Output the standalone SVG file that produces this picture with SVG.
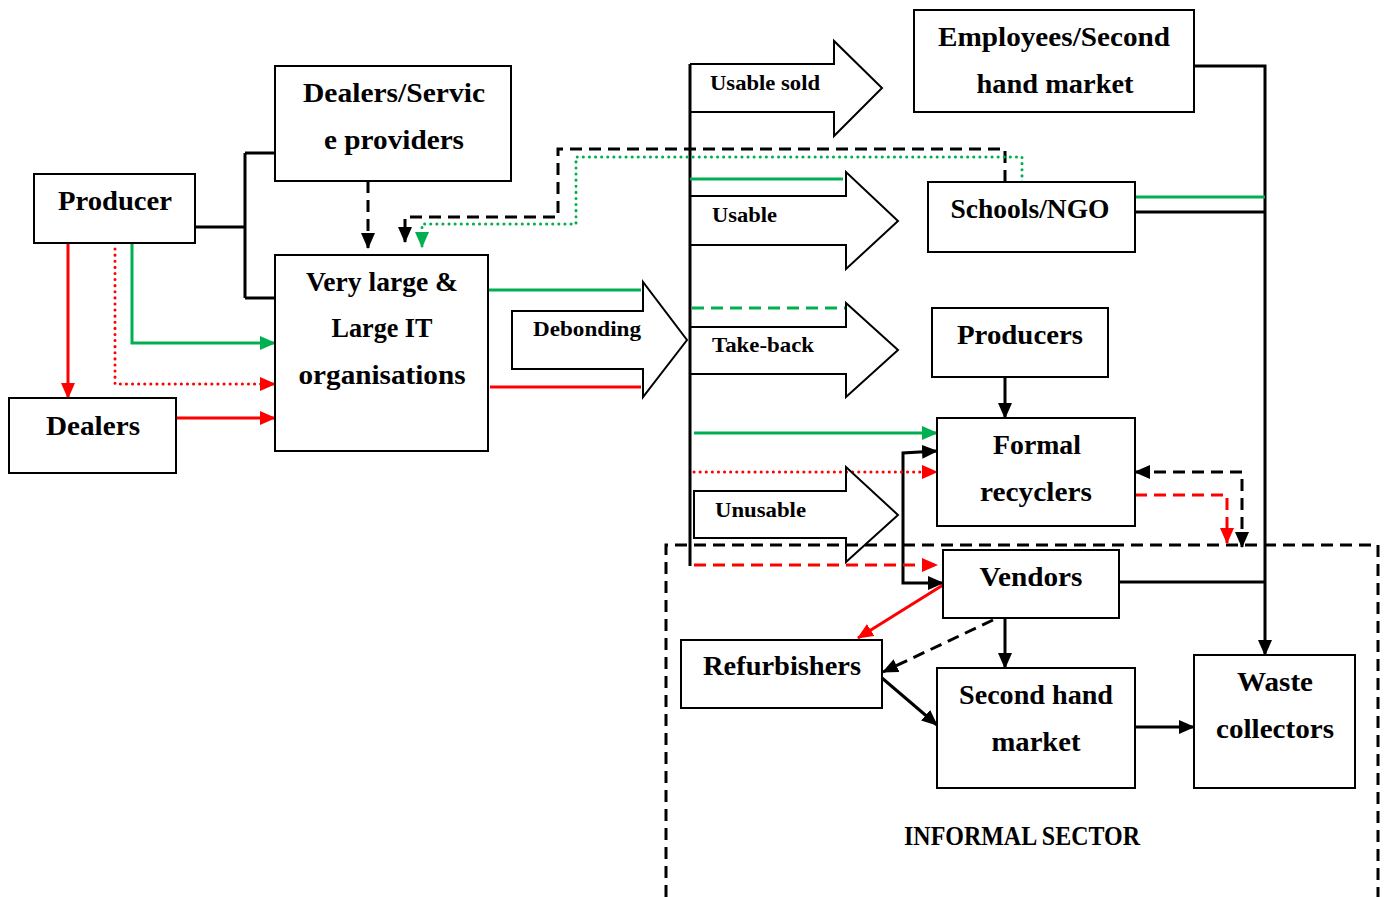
<svg xmlns="http://www.w3.org/2000/svg" width="1389" height="897" viewBox="0 0 1389 897">
  <style>
    .box { fill: #fff; stroke: #000; stroke-width: 2; }
    .lbl { font-family: "Liberation Serif", "DejaVu Serif", serif; font-weight: bold; font-size: 27px; fill: #000; text-anchor: middle; }
    .alb { font-family: "Liberation Serif", "DejaVu Serif", serif; font-weight: bold; font-size: 21px; fill: #000; }
    .blk { fill: none; stroke: #000; stroke-width: 3; }
    .red { fill: none; stroke: #ff0000; stroke-width: 3; }
    .grn { fill: none; stroke: #00b050; stroke-width: 3; }
    .dash { stroke-dasharray: 12 7; }
    .dot { stroke-dasharray: 0.1 6; stroke-linecap: round; }
    .barrow { fill: none; stroke: #000; stroke-width: 2; }
  </style>
  <defs>
    <marker id="ak" viewBox="0 0 16 14" refX="15" refY="7" markerWidth="16" markerHeight="14" markerUnits="userSpaceOnUse" orient="auto-start-reverse">
      <path d="M0,0 L16,7 L0,14 z" fill="#000"/>
    </marker>
    <marker id="ar" viewBox="0 0 16 14" refX="15" refY="7" markerWidth="16" markerHeight="14" markerUnits="userSpaceOnUse" orient="auto">
      <path d="M0,0 L16,7 L0,14 z" fill="#ff0000"/>
    </marker>
    <marker id="ag" viewBox="0 0 16 14" refX="15" refY="7" markerWidth="16" markerHeight="14" markerUnits="userSpaceOnUse" orient="auto">
      <path d="M0,0 L16,7 L0,14 z" fill="#00b050"/>
    </marker>
  </defs>

  <!-- informal sector boundary -->
  <g id="informal-sector">
    <path class="blk dash" d="M666,897 V545 H1378 V897" stroke-width="2.5"/>
    <text class="lbl" x="1022" y="845" font-size="24" textLength="236" lengthAdjust="spacingAndGlyphs">INFORMAL SECTOR</text>
  </g>

  <!-- connectors -->
  <g id="connectors">
    <!-- black solid -->
    <path class="blk" d="M195,227 H245 M245,153 V298 M245,153 H275 M245,298 H275"/>
    <path class="blk" d="M690,64 V566"/>
    <path class="blk" d="M1194,66 H1265 V655" marker-end="url(#ak)"/>
    <path class="blk" d="M1135,212 H1265"/>
    <path class="blk" d="M1119,582 H1265"/>
    <path class="blk" d="M1005,377 V418" marker-end="url(#ak)"/>
    <path class="blk" d="M903,520 V453 L937,451" marker-end="url(#ak)"/>
    <path class="blk" d="M903,520 V583 H943" marker-end="url(#ak)"/>
    <path class="blk" d="M1005,618 V668" marker-end="url(#ak)"/>
    <path class="blk" d="M882,678 L937,725" marker-end="url(#ak)"/>
    <path class="blk" d="M1135,727 H1194" marker-end="url(#ak)"/>
    <!-- black dashed -->
    <path class="blk dash" d="M368,181 V248" marker-end="url(#ak)"/>
    <path class="blk dash" d="M1005,182 V149 H558 V217 H405 V242" marker-end="url(#ak)"/>
    <path class="blk dash" d="M1135,472 H1242 V547" marker-start="url(#ak)" marker-end="url(#ak)"/>
    <path class="blk dash" d="M993,620 L883,672" stroke-width="2.5" marker-end="url(#ak)"/>
    <!-- red -->
    <path class="red" d="M68,243 V398" marker-end="url(#ar)"/>
    <path class="red dot" d="M115,249 V384 H275" marker-end="url(#ar)"/>
    <path class="red" d="M176,418 H275" marker-end="url(#ar)"/>
    <path class="red" d="M490,387 H641"/>
    <path class="red dot" d="M694,472 H937" marker-end="url(#ar)"/>
    <path class="red dash" d="M694,565 H937" marker-end="url(#ar)"/>
    <path class="red" d="M943,585 L858,638" stroke-width="2.5" marker-end="url(#ar)"/>
    <path class="red dash" d="M1135,495 H1227 V543" marker-end="url(#ar)"/>
    <!-- green -->
    <path class="grn" d="M132,243 V343 H275" marker-end="url(#ag)"/>
    <path class="grn" d="M488,290 H641"/>
    <path class="grn" d="M690,179 H843"/>
    <path class="grn dash" d="M692,308 H846"/>
    <path class="grn" d="M694,433 H937" marker-end="url(#ag)"/>
    <path class="grn dot" d="M1022,182 V157 H576 V224 H422 V247" marker-end="url(#ag)"/>
    <path class="grn" d="M1135,197 H1265"/>
  </g>

  <!-- block arrows -->
  <g id="arrow-debonding">
    <path class="barrow" d="M512,311 H643 V282 L687,340 L643,397 V369 H512 Z"/>
    <text class="alb" x="533" y="336" textLength="108" lengthAdjust="spacingAndGlyphs">Debonding</text>
  </g>
  <g id="arrow-usable-sold">
    <path class="barrow" d="M690,64 H834 V41 L882,88 L834,136 V112 H690"/>
    <text class="alb" x="710" y="90" textLength="110" lengthAdjust="spacingAndGlyphs">Usable sold</text>
  </g>
  <g id="arrow-usable">
    <path class="barrow" d="M690,196 H846 V172 L898,221 L846,269 V245 H690"/>
    <text class="alb" x="712" y="222" textLength="65" lengthAdjust="spacingAndGlyphs">Usable</text>
  </g>
  <g id="arrow-take-back">
    <path class="barrow" d="M690,327 H846 V303 L898,350 L846,397 V374 H690"/>
    <text class="alb" x="712" y="352" textLength="102" lengthAdjust="spacingAndGlyphs">Take-back</text>
  </g>
  <g id="arrow-unusable">
    <path class="barrow" d="M694,491 H846 V467 L898,515 L846,562 V538 H694 Z"/>
    <text class="alb" x="715" y="517" textLength="91" lengthAdjust="spacingAndGlyphs">Unusable</text>
  </g>

  <!-- nodes -->
  <g id="producer">
    <rect class="box" x="34" y="174" width="161" height="69"/>
    <text class="lbl" x="115" y="210" textLength="114" lengthAdjust="spacingAndGlyphs">Producer</text>
  </g>
  <g id="dealers">
    <rect class="box" x="9" y="398" width="167" height="75"/>
    <text class="lbl" x="93" y="435" textLength="94" lengthAdjust="spacingAndGlyphs">Dealers</text>
  </g>
  <g id="dealers-service-providers">
    <rect class="box" x="275" y="66" width="236" height="115"/>
    <text class="lbl" x="394" y="102" textLength="182" lengthAdjust="spacingAndGlyphs">Dealers/Servic</text>
    <text class="lbl" x="394" y="149" textLength="140" lengthAdjust="spacingAndGlyphs">e providers</text>
  </g>
  <g id="it-organisations">
    <rect class="box" x="275" y="255" width="213" height="196"/>
    <text class="lbl" x="382" y="291" textLength="152" lengthAdjust="spacingAndGlyphs">Very large &amp;</text>
    <text class="lbl" x="382" y="337" textLength="101" lengthAdjust="spacingAndGlyphs">Large IT</text>
    <text class="lbl" x="382" y="384" textLength="167" lengthAdjust="spacingAndGlyphs">organisations</text>
  </g>
  <g id="employees-second-hand-market">
    <rect class="box" x="914" y="10" width="280" height="102"/>
    <text class="lbl" x="1054" y="46" textLength="232" lengthAdjust="spacingAndGlyphs">Employees/Second</text>
    <text class="lbl" x="1055" y="93" textLength="157" lengthAdjust="spacingAndGlyphs">hand market</text>
  </g>
  <g id="schools-ngo">
    <rect class="box" x="928" y="182" width="207" height="70"/>
    <text class="lbl" x="1030" y="218" textLength="159" lengthAdjust="spacingAndGlyphs">Schools/NGO</text>
  </g>
  <g id="producers">
    <rect class="box" x="932" y="308" width="176" height="69"/>
    <text class="lbl" x="1020" y="344" textLength="126" lengthAdjust="spacingAndGlyphs">Producers</text>
  </g>
  <g id="formal-recyclers">
    <rect class="box" x="937" y="418" width="198" height="108"/>
    <text class="lbl" x="1037" y="454" textLength="88" lengthAdjust="spacingAndGlyphs">Formal</text>
    <text class="lbl" x="1036" y="501" textLength="112" lengthAdjust="spacingAndGlyphs">recyclers</text>
  </g>
  <g id="vendors">
    <rect class="box" x="943" y="550" width="176" height="68"/>
    <text class="lbl" x="1031" y="586" textLength="103" lengthAdjust="spacingAndGlyphs">Vendors</text>
  </g>
  <g id="refurbishers">
    <rect class="box" x="681" y="640" width="201" height="68"/>
    <text class="lbl" x="782" y="675" textLength="158" lengthAdjust="spacingAndGlyphs">Refurbishers</text>
  </g>
  <g id="second-hand-market">
    <rect class="box" x="937" y="668" width="198" height="120"/>
    <text class="lbl" x="1036" y="704" textLength="154" lengthAdjust="spacingAndGlyphs">Second hand</text>
    <text class="lbl" x="1036" y="751" textLength="89" lengthAdjust="spacingAndGlyphs">market</text>
  </g>
  <g id="waste-collectors">
    <rect class="box" x="1194" y="655" width="161" height="133"/>
    <text class="lbl" x="1275" y="691" textLength="76" lengthAdjust="spacingAndGlyphs">Waste</text>
    <text class="lbl" x="1275" y="738" textLength="118" lengthAdjust="spacingAndGlyphs">collectors</text>
  </g>
</svg>
